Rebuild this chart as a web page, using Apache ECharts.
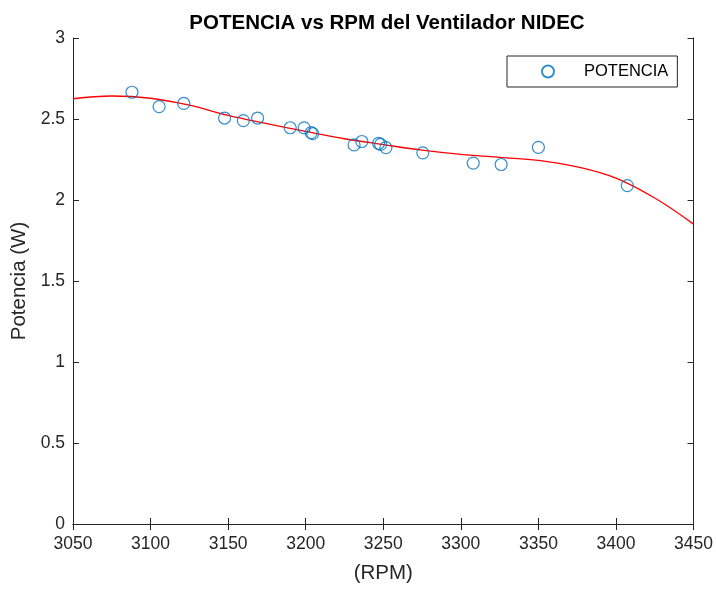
<!DOCTYPE html>
<html>
<head>
<meta charset="utf-8">
<script src="https://cdn.jsdelivr.net/npm/echarts@6/dist/echarts.min.js"></script>
<style>html,body{margin:0;padding:0;background:#fff}#c{width:716px;height:589px}</style>
</head>
<body>
<div id="c"></div>
<script>
var rpm = [3088, 3105.5, 3121.4, 3147.7, 3159.8, 3169, 3190, 3199, 3203.5, 3204.5, 3231.2, 3236.2, 3247, 3248.3, 3251.7, 3275.5, 3308, 3326, 3350, 3407.3];
var potencia = [2.665, 2.576, 2.596, 2.506, 2.490, 2.506, 2.446, 2.445, 2.416, 2.410, 2.340, 2.361, 2.350, 2.343, 2.323, 2.291, 2.228, 2.219, 2.325, 2.089];
var fitRpm = [3050, 3075, 3100, 3125, 3150, 3175, 3200, 3225, 3250, 3275, 3300, 3325, 3350, 3375, 3400, 3425, 3450];
var fitPot = [2.625, 2.642, 2.628, 2.585, 2.522, 2.471, 2.423, 2.378, 2.342, 2.308, 2.282, 2.263, 2.245, 2.205, 2.135, 2.012, 1.851];
var xTicks = [3050, 3100, 3150, 3200, 3250, 3300, 3350, 3400, 3450];
var yTicks = [0, 0.5, 1, 1.5, 2, 2.5, 3];

var FONT = 'Liberation Sans';
var AX = '#262626';
var chart = echarts.init(document.getElementById('c'), null, {renderer: 'canvas'});
function zip(a, b) { return a.map(function (v, i) { return [v, b[i]]; }); }
chart.setOption({
  animation: false,
  backgroundColor: '#fff',
  title: {
    text: 'POTENCIA vs RPM del Ventilador NIDEC',
    left: 382, top: 8, textAlign: 'center',
    textStyle: {fontFamily: FONT, fontSize: 20.5, fontWeight: 'bold', color: '#000'}
  },
  legend: {
    data: ['POTENCIA'],
    left: 507, top: 56,
    padding: [7, 9, 7, 34],
    itemWidth: 62, itemHeight: 12, itemGap: 0,
    borderColor: AX, borderWidth: 1, backgroundColor: '#fff',
    textStyle: {fontFamily: FONT, fontSize: 16.5, color: '#000'}
  },
  grid: {left: 73, right: 21, top: 38, bottom: 60, containLabel: false},
  xAxis: [{
    type: 'value', min: xTicks[0], max: xTicks[xTicks.length - 1], interval: 50,
    name: '(RPM)', nameLocation: 'middle', nameGap: 39,
    nameTextStyle: {fontFamily: FONT, fontSize: 20.5, color: AX},
    axisLine: {show: true, lineStyle: {color: AX, width: 1}},
    axisTick: {show: true, inside: true, length: 6, lineStyle: {color: AX}},
    axisLabel: {fontFamily: FONT, fontSize: 17.5, color: AX, margin: 11, formatter: function (v) { return String(v); }},
    splitLine: {show: false}
  }, {
    type: 'value', position: 'top', min: xTicks[0], max: xTicks[xTicks.length - 1], interval: 50,
    axisLine: {show: true, lineStyle: {color: AX, width: 1}},
    axisTick: {show: true, inside: true, length: 6, lineStyle: {color: AX}},
    axisLabel: {show: false}, splitLine: {show: false}
  }],
  yAxis: [{
    type: 'value', min: yTicks[0], max: yTicks[yTicks.length - 1], interval: 0.5,
    name: 'Potencia (W)', nameLocation: 'middle', nameGap: 40,
    nameTextStyle: {fontFamily: FONT, fontSize: 20.5, color: AX},
    axisLine: {show: true, lineStyle: {color: AX, width: 1}},
    axisTick: {show: true, inside: true, length: 6, lineStyle: {color: AX}},
    axisLabel: {fontFamily: FONT, fontSize: 17.5, color: AX, margin: 8},
    splitLine: {show: false}
  }, {
    type: 'value', position: 'right', min: yTicks[0], max: yTicks[yTicks.length - 1], interval: 0.5,
    axisLine: {show: true, lineStyle: {color: AX, width: 1}},
    axisTick: {show: true, inside: true, length: 6, lineStyle: {color: AX}},
    axisLabel: {show: false}, splitLine: {show: false}
  }],
  series: [{
    name: 'fit', type: 'line', data: zip(fitRpm, fitPot),
    smooth: 0.4, showSymbol: false, symbol: 'none',
    lineStyle: {color: '#ff0000', width: 1.3}, z: 2
  }, {
    name: 'POTENCIA', type: 'scatter', data: zip(rpm, potencia),
    symbol: 'circle', symbolSize: 12,
    itemStyle: {color: 'rgba(0,0,0,0)', borderColor: '#0072BD', borderWidth: 1.2},
    z: 3
  }]
});
</script>
</body>
</html>
